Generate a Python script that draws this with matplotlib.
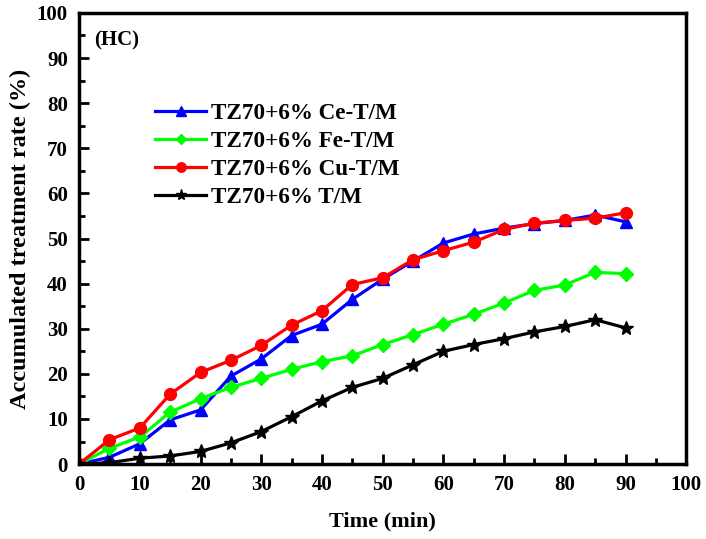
import matplotlib
matplotlib.use("Agg")
import matplotlib.pyplot as plt
from matplotlib.ticker import MultipleLocator

plt.rcParams['font.family'] = ['Liberation Serif', 'DejaVu Serif']
plt.rcParams['font.weight'] = 'bold'

time = [0, 5, 10, 15, 20, 25, 30, 35, 40, 45, 50, 55, 60, 65, 70, 75, 80, 85, 90]
ce = [0, 1.5, 4.5, 9.8, 12.0, 19.5, 23.3, 28.5, 31.0, 36.5, 41.0, 45.0, 49.0, 51.0, 52.3, 53.3, 54.0, 55.2, 53.7]
fe = [0, 3.5, 6.0, 11.5, 14.5, 17.0, 19.0, 21.0, 22.7, 24.0, 26.5, 28.7, 31.0, 33.2, 35.7, 38.5, 39.7, 42.5, 42.2]
cu = [0, 5.4, 8.0, 15.5, 20.3, 23.0, 26.3, 30.8, 34.0, 39.8, 41.3, 45.3, 47.3, 49.2, 52.0, 53.4, 54.0, 54.5, 55.7]
tm = [0, 0.3, 1.3, 1.8, 2.8, 4.7, 7.2, 10.5, 14.0, 17.0, 19.0, 22.0, 25.0, 26.5, 27.8, 29.3, 30.5, 32.0, 30.2]

labels = ["TZ70+6% Ce-T/M", "TZ70+6% Fe-T/M", "TZ70+6% Cu-T/M", "TZ70+6% T/M"]

fig = plt.figure(figsize=(7.06, 5.39), dpi=100)
ax = fig.add_axes([0.112, 0.139, 0.860, 0.837])

ax.plot(time, ce, color='#0000ff', marker='^', markersize=9, lw=2.3, label=labels[0])
ax.plot(time, fe, color='#00ff00', marker='D', markersize=7, lw=2.3, label=labels[1])
ax.plot(time, cu, color='#ff0000', marker='o', markersize=8.5, lw=2.3, label=labels[2])
ax.plot(time, tm, color='#000000', marker='*', markersize=10, lw=2.3, label=labels[3])

ax.set_xlim(0, 100)
ax.set_ylim(0, 100)
ax.xaxis.set_major_locator(MultipleLocator(10))
ax.xaxis.set_minor_locator(MultipleLocator(5))
ax.yaxis.set_major_locator(MultipleLocator(10))
ax.yaxis.set_minor_locator(MultipleLocator(5))
ax.tick_params(which='both', direction='in', width=2, top=False, right=False)
ax.tick_params(which='major', length=7, labelsize=15, pad=8)
ax.tick_params(which='minor', length=4)
for s in ax.spines.values():
    s.set_linewidth(2.5)
for lab in ax.get_xticklabels() + ax.get_yticklabels():
    lab.set_fontweight('bold')

ax.set_xlabel("Time (min)", fontsize=16, fontweight='bold', labelpad=12)
ax.set_ylabel("Accumulated treatment rate (%)", fontsize=17.5, fontweight='bold', labelpad=4)

ax.text(0.025, 0.94, "(HC)", transform=ax.transAxes, fontsize=15, fontweight='bold', va='center')

leg = ax.legend(loc='upper left', bbox_to_anchor=(0.11, 0.822), frameon=False,
                prop={'size': 16.7, 'weight': 'bold'}, handlelength=2.2,
                handletextpad=0.2, labelspacing=0.3, borderaxespad=0,
                markerscale=0.8)

fig.savefig("out.png", dpi=100)
